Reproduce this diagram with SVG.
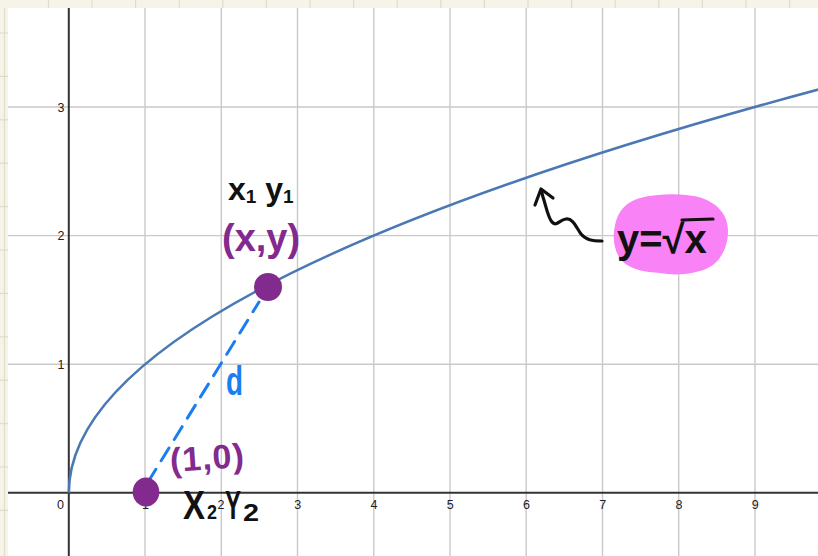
<svg xmlns="http://www.w3.org/2000/svg" width="818" height="556" viewBox="0 0 818 556">
<defs>
<style>
.ruler{fill:#f6f4e8}
.rtick{stroke:#e0dccb;stroke-width:1.2}
.grid{stroke:#c9c9c9;stroke-width:1.4}
.axis{stroke:#333;stroke-width:2}
.lbl{font-family:"Liberation Sans",Arial,sans-serif;font-size:12.5px;fill:#222}
.xl{text-anchor:middle}
.yl{text-anchor:end}
.hand{font-family:"Liberation Sans",Arial,sans-serif;font-weight:bold}
.purple{fill:#832a8e}
.black{fill:#111}
.ink{fill:none;stroke:#111;stroke-width:3.2;stroke-linecap:round;stroke-linejoin:round}
</style>
</defs>
<rect width="818" height="556" fill="#ffffff"/>
<g id="rulers">
<rect class="ruler" x="0" y="0" width="818" height="8"/>
<rect class="ruler" x="0" y="0" width="8" height="556"/>
<line class="rtick" x1="4.5" y1="8" x2="4.5" y2="556"/>
<g class="rtick">
<line x1="48.5" y1="0" x2="48.5" y2="8"/><line x1="92" y1="0" x2="92" y2="8"/><line x1="135.6" y1="0" x2="135.6" y2="8"/><line x1="179.2" y1="0" x2="179.2" y2="8"/><line x1="222.8" y1="0" x2="222.8" y2="8"/><line x1="266.4" y1="0" x2="266.4" y2="8"/><line x1="310" y1="0" x2="310" y2="8"/><line x1="353.6" y1="0" x2="353.6" y2="8"/><line x1="397.2" y1="0" x2="397.2" y2="8"/><line x1="440.8" y1="0" x2="440.8" y2="8"/><line x1="484.4" y1="0" x2="484.4" y2="8"/><line x1="528" y1="0" x2="528" y2="8"/><line x1="571.6" y1="0" x2="571.6" y2="8"/><line x1="615.2" y1="0" x2="615.2" y2="8"/><line x1="658.8" y1="0" x2="658.8" y2="8"/><line x1="702.4" y1="0" x2="702.4" y2="8"/><line x1="746" y1="0" x2="746" y2="8"/><line x1="789.6" y1="0" x2="789.6" y2="8"/>
<line x1="0" y1="33" x2="8" y2="33"/><line x1="0" y1="76.4" x2="8" y2="76.4"/><line x1="0" y1="119.8" x2="8" y2="119.8"/><line x1="0" y1="163.2" x2="8" y2="163.2"/><line x1="0" y1="206.6" x2="8" y2="206.6"/><line x1="0" y1="250" x2="8" y2="250"/><line x1="0" y1="293.4" x2="8" y2="293.4"/><line x1="0" y1="336.8" x2="8" y2="336.8"/><line x1="0" y1="380.2" x2="8" y2="380.2"/><line x1="0" y1="423.6" x2="8" y2="423.6"/><line x1="0" y1="467" x2="8" y2="467"/><line x1="0" y1="510.4" x2="8" y2="510.4"/>
</g>
</g>
<g id="grid" class="grid">
<line x1="145" y1="8" x2="145" y2="556"/><line x1="221.3" y1="8" x2="221.3" y2="556"/><line x1="297.5" y1="8" x2="297.5" y2="556"/><line x1="373.8" y1="8" x2="373.8" y2="556"/><line x1="450" y1="8" x2="450" y2="556"/><line x1="526.2" y1="8" x2="526.2" y2="556"/><line x1="602.5" y1="8" x2="602.5" y2="556"/><line x1="678.7" y1="8" x2="678.7" y2="556"/><line x1="755" y1="8" x2="755" y2="556"/>
<line x1="8" y1="364.2" x2="818" y2="364.2"/><line x1="8" y1="235.6" x2="818" y2="235.6"/><line x1="8" y1="107" x2="818" y2="107"/>
</g>
<g id="axes">
<line class="axis" x1="8" y1="492.8" x2="818" y2="492.8"/>
<line class="axis" x1="68.8" y1="8" x2="68.8" y2="556"/>
</g>
<g id="labels">
<text class="lbl xl" x="60.5" y="509">0</text>
<text class="lbl xl" x="145.5" y="509">1</text>
<text class="lbl xl" x="221" y="509" font-size="11">2</text>
<text class="lbl xl" x="297.8" y="509">3</text>
<text class="lbl xl" x="374" y="509">4</text>
<text class="lbl xl" x="450.2" y="509">5</text>
<text class="lbl xl" x="526.4" y="509">6</text>
<text class="lbl xl" x="602.7" y="509">7</text>
<text class="lbl xl" x="679" y="509">8</text>
<text class="lbl xl" x="755.2" y="509">9</text>
<text class="lbl yl" x="64.5" y="368.5">1</text>
<text class="lbl yl" x="64.5" y="240">2</text>
<text class="lbl yl" x="64.5" y="111.5">3</text>
</g>
<g id="curve">
<path d="M68.8 492.8 Q68.8 291 820 89.1" fill="none" stroke="#4a78b4" stroke-width="2.6"/>
</g>
<g id="connectors">
<line x1="148" y1="482" x2="259" y2="302" stroke="#1b7ef0" stroke-width="3" stroke-linecap="round" stroke-dasharray="15 10"/>
<path class="ink" d="M602 241 C592 241 586 240 581 234 C576 227 573 218 566 219 C559 220 557 227 552 222 C548 218 546 206 543 197 L541 190"/>
<path class="ink" d="M535 205 L541 189 L553 198"/>
</g>
<g id="point1">
<circle cx="268" cy="287" r="14" fill="#832a8e"/>
</g>
<g id="point2">
<ellipse cx="146" cy="492" rx="13.3" ry="14.5" fill="#832a8e"/>
</g>
<g id="texts">
<text class="hand black" x="228" y="200" font-size="32">x<tspan font-size="19" dy="3">1</tspan><tspan dy="-3"> y</tspan><tspan font-size="19" dy="3">1</tspan></text>
<text class="hand purple" x="222" y="251" font-size="38">(x,y)</text>
<text class="hand purple" x="170" y="470" font-size="34" letter-spacing="1" transform="rotate(-4 200 460)">(1,0)</text>
<text class="hand" x="226" y="395" font-size="40" fill="#1b7ef0" textLength="17" lengthAdjust="spacingAndGlyphs">d</text>
<text class="hand black" font-size="40" y="519"><tspan x="183" textLength="22" lengthAdjust="spacingAndGlyphs">X</tspan><tspan x="207" font-size="21" textLength="10" lengthAdjust="spacingAndGlyphs">2</tspan><tspan x="225" textLength="16" lengthAdjust="spacingAndGlyphs">Y</tspan><tspan x="243" y="521" font-size="24" textLength="16" lengthAdjust="spacingAndGlyphs">2</tspan></text>
</g>
<g id="equation">
<path d="M640 198 C660 193 685 193 702 198 C718 204 728 215 728 231 C728 248 720 262 708 268 C695 274 677 276 660 273 C645 272 633 270 623 262 C614 253 612 238 615 225 C618 211 626 202 640 198 Z" fill="#f882f6"/>
<text class="hand black" x="617" y="253" font-size="40">y=√x</text>
<line x1="682" y1="220" x2="713" y2="219" stroke="#111" stroke-width="3.2" stroke-linecap="round"/>
</g>
</svg>
